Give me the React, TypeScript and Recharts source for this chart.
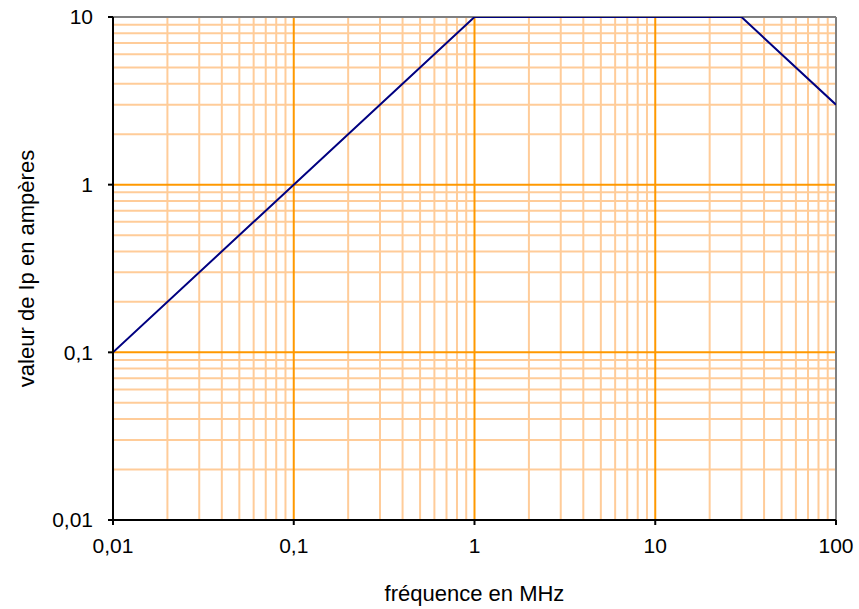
import { LineChart, Line, XAxis, YAxis, ReferenceLine } from 'recharts';

// frequency (MHz) -> Ip (A)
const frequency = [0.01, 1, 30, 100];
const current = [0.1, 10, 10, 3];

const xTicks = [0.01, 0.1, 1, 10, 100];
const yTicks = [0.01, 0.1, 1, 10];
const minorSteps = [2, 3, 4, 5, 6, 7, 8, 9];

const data = frequency.map((f, i) => ({ f, ip: current[i] }));

const minorOf = (decades: number[]) =>
  decades.slice(0, -1).flatMap((d) => minorSteps.map((m) => +(d * m).toPrecision(3)));

const xMinor = minorOf(xTicks);
const yMinor = minorOf(yTicks);

const fmt = (v: number) => String(v).replace('.', ',');

const font = '"Liberation Sans", Arial, sans-serif';
const tickStyle = { fill: '#000', fontSize: 21, fontFamily: font };
const titleStyle = { fill: '#000', fontSize: 22, fontFamily: font };

export default function App() {
  return (
    <div style={{ position: 'absolute', left: 0, top: 0, background: '#fff' }}>
      <LineChart width={859} height={609} data={data} margin={{ top: 17, right: 23, left: 0, bottom: 0 }}>
        <XAxis
          dataKey="f"
          type="number"
          scale="log"
          domain={[0.01, 100]}
          ticks={xTicks}
          tickFormatter={fmt}
          allowDataOverflow
          height={89}
          tickSize={5}
          tickMargin={13}
          tick={tickStyle}
          stroke="#000"
          strokeWidth={2}
          label={{ value: 'fréquence en MHz', position: 'insideBottom', offset: 8, style: titleStyle }}
        />
        <YAxis
          type="number"
          scale="log"
          domain={[0.01, 10]}
          ticks={yTicks}
          tickFormatter={fmt}
          allowDataOverflow
          width={113}
          tickSize={5}
          tickMargin={15}
          tick={tickStyle}
          stroke="#000"
          strokeWidth={2}
          label={{
            value: 'valeur de Ip en ampères',
            angle: -90,
            position: 'insideLeft',
            offset: 26,
            style: { ...titleStyle, textAnchor: 'middle' },
          }}
        />
        {xMinor.map((v) => (
          <ReferenceLine key={`xm${v}`} x={v} stroke="#FFCC99" strokeWidth={2} />
        ))}
        {yMinor.map((v) => (
          <ReferenceLine key={`ym${v}`} y={v} stroke="#FFCC99" strokeWidth={2} />
        ))}
        {xTicks.slice(1, -1).map((v) => (
          <ReferenceLine key={`xM${v}`} x={v} stroke="#FF9900" strokeWidth={2} />
        ))}
        {yTicks.slice(1, -1).map((v) => (
          <ReferenceLine key={`yM${v}`} y={v} stroke="#FF9900" strokeWidth={2} />
        ))}
        <ReferenceLine y={10} stroke="#808080" strokeWidth={2} />
        <ReferenceLine x={100} stroke="#808080" strokeWidth={2} />
        <Line dataKey="ip" stroke="#000080" strokeWidth={2} dot={false} isAnimationActive={false} />
      </LineChart>
    </div>
  );
}
